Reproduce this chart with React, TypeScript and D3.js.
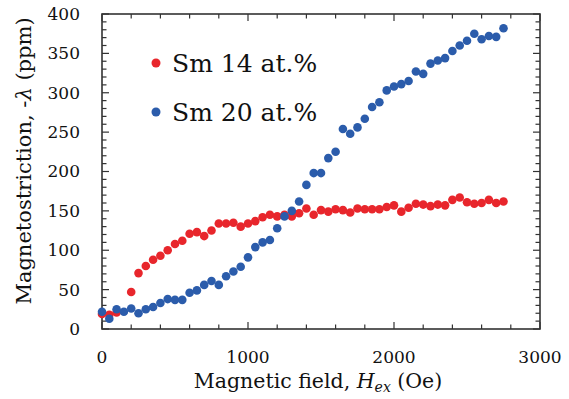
import React from "react";
import * as d3 from "d3";

const fieldSm14 = [0, 50, 100, 200, 250, 300, 350, 400, 450, 500, 550, 600, 650, 700, 750, 800, 850, 900, 950, 1000, 1050, 1100, 1150, 1200, 1250, 1300, 1350, 1400, 1450, 1500, 1550, 1600, 1650, 1700, 1750, 1800, 1850, 1900, 1950, 2000, 2050, 2100, 2150, 2200, 2250, 2300, 2350, 2400, 2450, 2500, 2550, 2600, 2650, 2700, 2750];
const lambdaSm14 = [19, 18, 21, 47, 71, 80, 88, 93, 100, 108, 112, 121, 123, 118, 125, 134, 134, 135, 130, 134, 137, 142, 145, 143, 145, 143, 147, 153, 145, 151, 149, 152, 151, 148, 153, 152, 152, 152, 155, 157, 149, 154, 159, 158, 156, 158, 157, 164, 167, 161, 159, 160, 164, 160, 162];

const fieldSm20 = [0, 50, 100, 150, 200, 250, 300, 350, 400, 450, 500, 550, 600, 650, 700, 750, 800, 850, 900, 950, 1000, 1050, 1100, 1150, 1200, 1250, 1300, 1350, 1400, 1450, 1500, 1550, 1600, 1650, 1700, 1750, 1800, 1850, 1900, 1950, 2000, 2050, 2100, 2150, 2200, 2250, 2300, 2350, 2400, 2450, 2500, 2550, 2600, 2650, 2700, 2750];
const lambdaSm20 = [22, 13, 25, 22, 26, 20, 25, 28, 33, 38, 37, 37, 46, 49, 56, 61, 56, 67, 73, 79, 91, 104, 110, 113, 128, 143, 150, 162, 183, 198, 198, 217, 225, 254, 248, 256, 267, 282, 288, 303, 308, 311, 315, 327, 324, 337, 341, 344, 353, 360, 366, 375, 368, 372, 371, 382];

const xTickLabels = [0, 1000, 2000, 3000];
const yTickLabels = [0, 50, 100, 150, 200, 250, 300, 350, 400];
const seriesNames = ["Sm 14 at.%", "Sm 20 at.%"];

const RED = "#e8262c";
const BLUE = "#2b5cab";
const FONT = "'DejaVu Serif', serif";

export default function App() {
  const left = 102, right = 540, top = 14, bottom = 329;
  const x = d3.scaleLinear().domain([0, 3000]).range([left, right]);
  const y = d3.scaleLinear().domain([0, 400]).range([bottom, top]);

  const xMinor = d3.range(0, 3001, 200);
  const yMinor = d3.range(0, 401, 10);
  const axisColor = "#333";

  const red = fieldSm14.map((f, i) => [f, lambdaSm14[i]]);
  const blue = fieldSm20.map((f, i) => [f, lambdaSm20[i]]);

  return (
    <svg width={569} height={399} style={{ position: "absolute", left: 0, top: 0, background: "#fff" }} fontFamily={FONT}>
      {xMinor.map((v) => {
        const major = v % 1000 === 0;
        const len = major ? 7 : 4.5;
        return (
          <g key={"xt" + v}>
            <line x1={x(v)} x2={x(v)} y1={bottom} y2={bottom - len} stroke={axisColor} strokeWidth={1.2} />
            <line x1={x(v)} x2={x(v)} y1={top} y2={top + len} stroke={axisColor} strokeWidth={1.2} />
          </g>
        );
      })}
      {yMinor.map((v) => {
        const major = v % 50 === 0;
        const len = major ? 7 : 4.5;
        return (
          <g key={"yt" + v}>
            <line x1={left} x2={left + len} y1={y(v)} y2={y(v)} stroke={axisColor} strokeWidth={1.2} />
            <line x1={right} x2={right - len} y1={y(v)} y2={y(v)} stroke={axisColor} strokeWidth={1.2} />
          </g>
        );
      })}
      <rect x={left} y={top} width={right - left} height={bottom - top} fill="none" stroke={axisColor} strokeWidth={1.6} />

      {xTickLabels.map((v) => (
        <text key={"xl" + v} x={x(v)} y={363} textAnchor="middle" fontSize={17} fill="#111">{v}</text>
      ))}
      {yTickLabels.map((v) => (
        <text key={"yl" + v} x={80} y={y(v)} dy="0.35em" textAnchor="end" fontSize={17} fill="#111">{v}</text>
      ))}

      <text x={318} y={388} textAnchor="middle" fontSize={20.5} fill="#111">
        Magnetic field, <tspan fontStyle="italic">H</tspan><tspan fontStyle="italic" fontSize={14} dy={4}>ex</tspan><tspan dy={-4}> (Oe)</tspan>
      </text>
      <text transform={`translate(31,161) rotate(-90)`} textAnchor="middle" fontSize={21} fill="#111">
        Magnetostriction,  -<tspan fontStyle="italic">λ</tspan> (ppm)
      </text>

      {red.map((d, i) => (
        <circle key={"r" + i} cx={x(d[0])} cy={y(d[1])} r={4.3} fill={RED} />
      ))}
      {blue.map((d, i) => (
        <circle key={"b" + i} cx={x(d[0])} cy={y(d[1])} r={4.3} fill={BLUE} />
      ))}

      <circle cx={156} cy={63} r={4.5} fill={RED} />
      <text x={172} y={72} fontSize={25} fill="#111">{seriesNames[0]}</text>
      <circle cx={156} cy={112} r={4.5} fill={BLUE} />
      <text x={172} y={121} fontSize={25} fill="#111">{seriesNames[1]}</text>
    </svg>
  );
}
